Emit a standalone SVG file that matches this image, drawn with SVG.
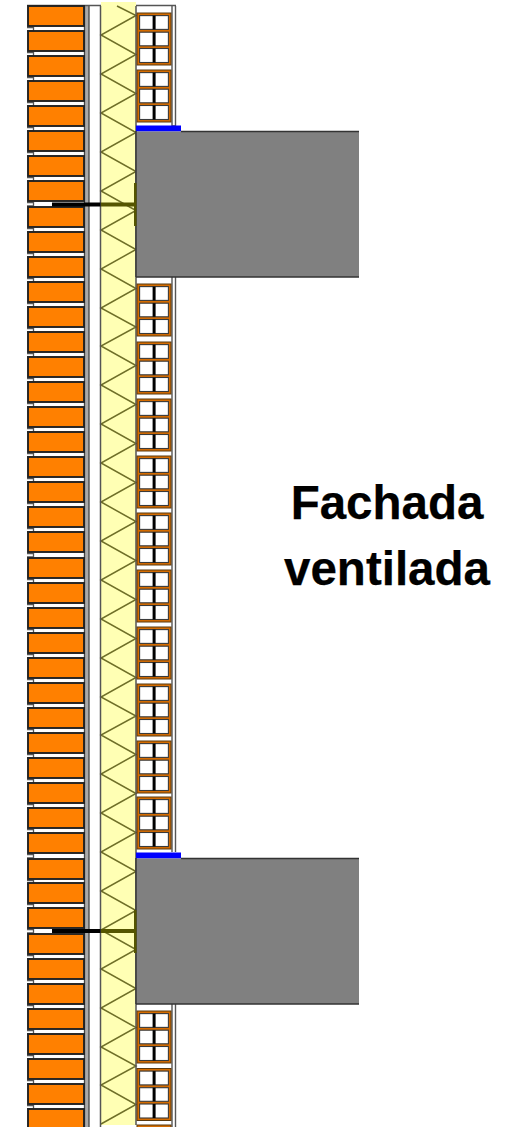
<svg xmlns="http://www.w3.org/2000/svg" width="517" height="1127" viewBox="0 0 517 1127">
<style>
.b{fill:#ff8000;stroke:#222;stroke-width:1.9}
.st{fill:none;stroke:#555;stroke-width:1.3}
.o{fill:#d56c00;stroke:#5a3a10;stroke-width:1}
.c{fill:#fff;stroke:#3a3a3a;stroke-width:1.1}
.z{fill:none;stroke:#6f6f28;stroke-width:1.5}
.s{fill:#808080}
.e{stroke:#333;stroke-width:1.4;fill:none}
.bl{fill:#0000ff}
.t{font-family:"Liberation Sans",Arial,sans-serif;font-weight:700;font-size:47.5px;fill:#000;text-anchor:middle;stroke:#000;stroke-width:.25}
</style>
<defs>
<g id="brick">
<path class="st" d="M-1 21.5H5.5V25M-1 25H5.5"/>
<rect class="b" x="0" y="0" width="56" height="20"/>
</g>
<g id="hollow">
<rect class="o" x="0" y="0" width="34" height="52"/>
<rect class="c" x="2.6" y="2.6" width="28.8" height="13.8"/>
<rect class="c" x="2.6" y="19.2" width="28.8" height="13.6"/>
<rect class="c" x="2.6" y="35.5" width="28.8" height="14"/>
<rect x="15.6" y="2.6" width="3" height="13.8" fill="#000"/>
<rect x="15.6" y="19.2" width="3" height="13.6" fill="#000"/>
<rect x="15.6" y="35.5" width="3" height="14" fill="#000"/>
</g>
</defs>
<rect width="517" height="1127" fill="#fff"/>

<g id="air-gap-and-lines">
<rect x="84.5" y="6" width="4.5" height="1121" fill="#aaa"/>
<path d="M84.5 6V1127M89 6V1127" stroke="#444" stroke-width="1.3" fill="none"/>
<path d="M27 5.5H176" stroke="#555" stroke-width="1.6" fill="none"/>
</g>

<g id="outer-leaf">
<use href="#brick" x="28" y="6"/><use href="#brick" x="28" y="31"/><use href="#brick" x="28" y="56"/><use href="#brick" x="28" y="81"/><use href="#brick" x="28" y="106"/>
<use href="#brick" x="28" y="131"/><use href="#brick" x="28" y="156"/><use href="#brick" x="28" y="181"/><use href="#brick" x="28" y="207"/><use href="#brick" x="28" y="232"/>
<use href="#brick" x="28" y="257"/><use href="#brick" x="28" y="282"/><use href="#brick" x="28" y="307"/><use href="#brick" x="28" y="332"/><use href="#brick" x="28" y="357"/>
<use href="#brick" x="28" y="382"/><use href="#brick" x="28" y="407"/><use href="#brick" x="28" y="432"/><use href="#brick" x="28" y="457"/><use href="#brick" x="28" y="482"/>
<use href="#brick" x="28" y="507"/><use href="#brick" x="28" y="532"/><use href="#brick" x="28" y="558"/><use href="#brick" x="28" y="583"/><use href="#brick" x="28" y="608"/>
<use href="#brick" x="28" y="633"/><use href="#brick" x="28" y="658"/><use href="#brick" x="28" y="683"/><use href="#brick" x="28" y="708"/><use href="#brick" x="28" y="733"/>
<use href="#brick" x="28" y="758"/><use href="#brick" x="28" y="783"/><use href="#brick" x="28" y="808"/><use href="#brick" x="28" y="833"/><use href="#brick" x="28" y="859"/>
<use href="#brick" x="28" y="883"/><use href="#brick" x="28" y="908"/><use href="#brick" x="28" y="934"/><use href="#brick" x="28" y="959"/><use href="#brick" x="28" y="984"/>
<use href="#brick" x="28" y="1009"/><use href="#brick" x="28" y="1034"/><use href="#brick" x="28" y="1059"/><use href="#brick" x="28" y="1084"/><use href="#brick" x="28" y="1109"/>
</g>

<g id="insulation">
<rect x="101" y="2" width="35" height="1123" fill="#ffffb4"/>
<polyline class="z" points="117,6 136,15.5 101,35 136,54.5 101,74 136,93.5 101,113 136,132.5 101,152 136,171.5 101,191 136,210.5 101,230 136,249.5 101,269 136,288.5 101,308 136,327 101,346 136,365.5 101,385 136,404.5 101,424 136,443.5 101,463 136,482.5 101,502 136,521.5 101,541 136,560.5 101,580 136,599.5 101,619 136,638.5 101,658 136,677.5 101,697 136,716 101,735 136,754.5 101,774 136,793.5 101,813 136,832.5 101,852 136,871.5 101,891 136,910.5 101,930 136,949.5 101,969 136,988.5 101,1008 136,1027.5 101,1047 136,1066 101,1085 136,1104.5 101,1124"/>
<path d="M100.5 6V1127M136 6V1125" stroke="#555" stroke-width="1.5" fill="none"/>
</g>

<g id="inner-leaf">
<path d="M172 6V126H175.5V6M172 277V852M175.5 277V852M172 1004V1127M175.5 1004V1127" stroke="#555" stroke-width="1.4" fill="none"/>
<use href="#hollow" x="137" y="13"/><use href="#hollow" x="137" y="70"/>
<use href="#hollow" x="137" y="284"/><use href="#hollow" x="137" y="342"/><use href="#hollow" x="137" y="399"/><use href="#hollow" x="137" y="456"/><use href="#hollow" x="137" y="513"/>
<use href="#hollow" x="137" y="570"/><use href="#hollow" x="137" y="627"/><use href="#hollow" x="137" y="684"/><use href="#hollow" x="137" y="741"/><use href="#hollow" x="137" y="797"/>
<use href="#hollow" x="137" y="1011"/><use href="#hollow" x="137" y="1068.5"/><use href="#hollow" x="137" y="1125"/>
</g>

<g id="slabs">
<rect class="bl" x="136" y="125.5" width="45" height="6"/>
<rect class="s" x="136" y="131.5" width="223" height="145.5"/>
<path class="e" d="M181 131.5H359M136 277H359M136 131V277"/>
<rect class="bl" x="136" y="852.5" width="45" height="6"/>
<rect class="s" x="136" y="858.5" width="223" height="145.5"/>
<path class="e" d="M181 858.5H359M136 1004H359M136 858V1004"/>
</g>

<g id="ties">
<rect x="52" y="202.5" width="48.5" height="4" fill="#000"/>
<rect x="101" y="202.5" width="35" height="4" fill="#555500"/>
<rect x="134" y="183" width="2.5" height="43" fill="#555500"/>
<rect x="52" y="929" width="48.5" height="4" fill="#000"/>
<rect x="101" y="929" width="35" height="4" fill="#555500"/>
<rect x="134" y="910" width="2.5" height="43" fill="#555500"/>
</g>

<g id="label">
<text class="t" x="387" y="519">Fachada</text>
<text class="t" x="387" y="585">ventilada</text>
</g>
</svg>
